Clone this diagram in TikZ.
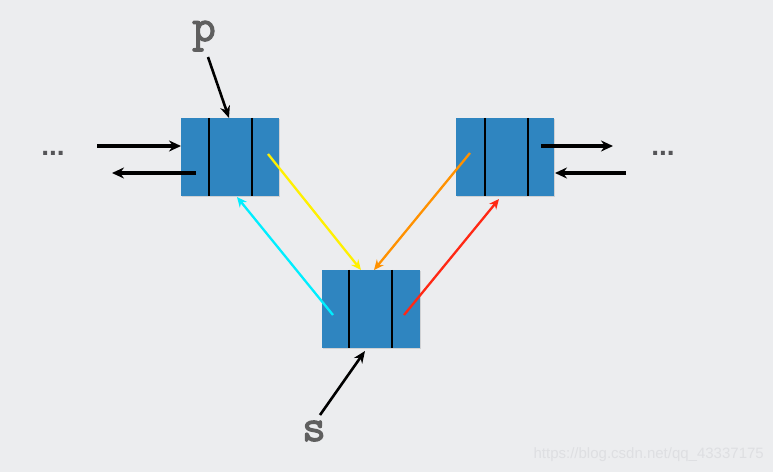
\documentclass[tikz,border=0pt]{standalone}
\usepackage{fontspec}
\setmainfont{Liberation Sans}
\newfontfamily\slabfont[FakeBold=2.5]{Latin Modern Mono}
\usetikzlibrary{arrows.meta,calc,shadows}
\definecolor{bg}{RGB}{236,237,239}
\definecolor{cellblue}{RGB}{47,133,192}
\definecolor{labgray}{RGB}{95,95,95}
\definecolor{dotgray}{RGB}{85,85,88}
\definecolor{wm}{RGB}{222,223,226}
\definecolor{cyanarr}{RGB}{0,238,255}
\definecolor{yellowarr}{RGB}{255,240,0}
\definecolor{orangearr}{RGB}{255,145,0}
\definecolor{redarr}{RGB}{255,40,20}
\tikzset{
  cell/.style={draw=none, fill=cellblue, minimum width=98pt, minimum height=78pt, inner sep=0pt,
    drop shadow={opacity=0.25, shadow xshift=1pt, shadow yshift=-1pt}},
  divider/.style={line width=2.2pt, black},
  blackarrow/.style={line width=3.5pt, black, -{Stealth[length=12pt,width=11pt]}},
  ptrarrow/.style={line width=2.6pt, black, -{Stealth[length=12pt,width=10pt]}},
  colarrow/.style={line width=2.3pt, -{Stealth[length=10pt,width=9pt]}},
  letter/.style={font=\slabfont\bfseries\fontsize{46}{46}\selectfont, text=labgray, inner sep=0pt, anchor=base},
  dots/.style={font=\bfseries\fontsize{28}{28}\selectfont, text=dotgray, inner sep=0pt, anchor=base}
}
\begin{document}
\begin{tikzpicture}[x=1pt,y=-1pt]
\fill[bg] (0,0) rectangle (773,472);
\useasboundingbox (0,0) rectangle (773,472);

% cells
\node[cell] (A) at (230,157) {};
\node[cell] (B) at (505,157) {};
\node[cell] (C) at (370.5,309) {};
\foreach \n/\da/\db in {A/28/71, B/29/72, C/28/71}{
  \draw[divider] ($(\n.north west)+(\da,0)$) -- ($(\n.south west)+(\da,0)$);
  \draw[divider] ($(\n.north west)+(\db,0)$) -- ($(\n.south west)+(\db,0)$);
}

% labels
\node[letter] (p) at (204,41) {p};
\node[letter] (s) at (314,441) {s};
\node[dots] (ldots) at (53,155) {...};
\node[dots] (rdots) at (663,155) {...};

% coordinates
\coordinate (pstart) at (208,57);
\coordinate (pend) at (229,118);
\coordinate (sstart) at (320,415);
\coordinate (send) at (365,351);
\coordinate (l1s) at (97,146);
\coordinate (l1e) at (181,146);
\coordinate (l2s) at (196,173);
\coordinate (l2e) at (112,173);
\coordinate (r1s) at (541,146);
\coordinate (r1e) at (613,146);
\coordinate (r2s) at (626,173);
\coordinate (r2e) at (555,173);
\coordinate (ys) at (268,154);
\coordinate (ye) at (361,270);
\coordinate (cs) at (333,315);
\coordinate (ce) at (237,197);
\coordinate (os) at (470,153);
\coordinate (oe) at (374,270);
\coordinate (rs) at (404,315);
\coordinate (re) at (499,199);

% pointers
\draw[ptrarrow] (pstart) -- (pend);
\draw[ptrarrow] (sstart) -- (send);

% side arrows
\draw[blackarrow] (l1s) -- (l1e);
\draw[blackarrow] (l2s) -- (l2e);
\draw[blackarrow] (r1s) -- (r1e);
\draw[blackarrow] (r2s) -- (r2e);

% coloured links
\draw[colarrow, yellowarr] (ys) -- (ye);
\draw[colarrow, cyanarr] (cs) -- (ce);
\draw[colarrow, orangearr] (os) -- (oe);
\draw[colarrow, redarr] (rs) -- (re);

% watermark
\node[anchor=east, inner sep=0pt, text=wm, font=\fontsize{15}{15}\selectfont] (wmark) at (764,455) {https://blog.csdn.net/qq\_43337175};
\end{tikzpicture}
\end{document}
